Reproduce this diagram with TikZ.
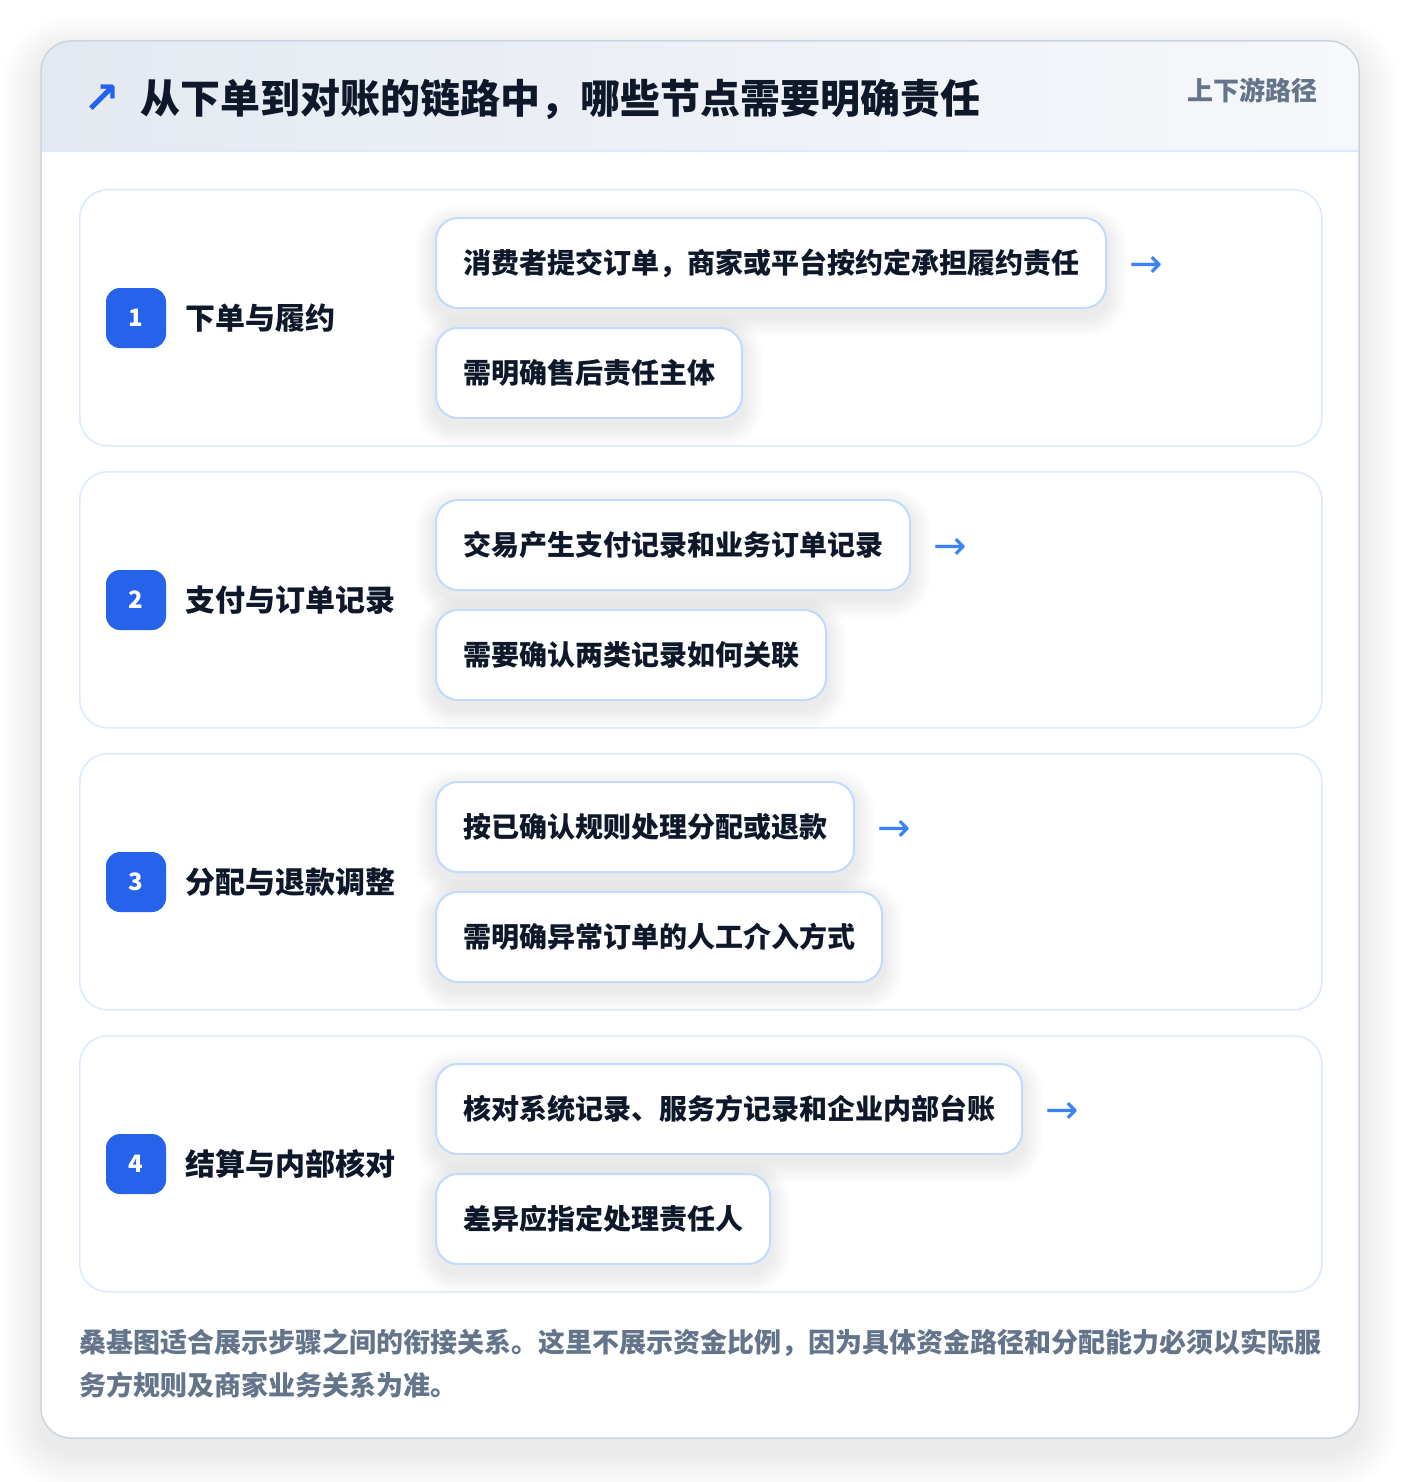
\documentclass[tikz,border=0pt]{standalone}
\usepackage{fontspec}
\setmainfont{Noto Sans CJK SC}
\newfontfamily\symfont{DejaVu Sans}
\definecolor{ink}{HTML}{0F172A}
\definecolor{brand}{HTML}{2563EB}
\definecolor{flowc}{HTML}{3B82F6}
\definecolor{slate}{HTML}{64748B}
\definecolor{cardB}{HTML}{DBEAFE}
\definecolor{itemB}{HTML}{BFDBFE}
\definecolor{outerB}{HTML}{CBD5E1}
\definecolor{hdrL}{HTML}{E4E9F1}
\definecolor{hdrR}{HTML}{F6F8FB}
\definecolor{shadowc}{HTML}{1E293B}
\pgfdeclarelayer{back}
\pgfdeclarelayer{shade}
\pgfsetlayers{back,shade,main}
\tikzset{
  card/.style={draw=cardB, line width=1.5pt, fill=white, rounded corners=28pt,
    minimum width=1242pt, minimum height=256pt, inner sep=0pt},
  badge/.style={fill=brand, rounded corners=14pt, minimum size=60pt, inner sep=0pt,
    text=white, font=\fontsize{24}{24}\selectfont\bfseries},
  lab/.style={anchor=west, text=ink, inner sep=0pt, font=\fontsize{30}{30}\selectfont\bfseries},
  itembox/.style={draw=itemB, line width=2pt, fill=white, rounded corners=22pt,
    minimum height=90pt, inner xsep=27pt, inner ysep=0pt, anchor=north west, text=ink,
    font=\fontsize{28}{28}\selectfont\bfseries},
  flowarrow/.style={anchor=west, text=flowc, inner sep=0pt, font=\symfont\fontsize{40}{40}\selectfont},
  note/.style={anchor=west, text=slate, inner sep=0pt, font=\fontsize{27}{27}\selectfont\bfseries},
  softshade/.style={fill=shadowc, opacity=0.006}
}
% soft shadow under a node: #1 node name, #2 corner radius
\newcommand\boxshadow[2]{%
  \begin{pgfonlayer}{shade}
  \foreach \i in {2,4,...,20}{
    \fill[softshade, rounded corners=#2+\i]
      ([shift={(-\i,-\i+8)}]#1.north west) rectangle ([shift={(\i,\i+8)}]#1.south east);
  }
  \end{pgfonlayer}}
\newcommand\flowrow[5]{%
  \pgfmathsetmacro\ry{189+282*(#1-1)}%
  \begin{pgfonlayer}{back}
  \node[card, anchor=north west] (card#1) at (79,\ry) {};
  \end{pgfonlayer}
  \node[badge] (badge#1) at (136,\ry+129) {#2};
  \node[lab] (lab#1) at (185,\ry+129) {#3};
  \node[itembox] (a#1) at (435,\ry+28) {#4};
  \node[itembox] (b#1) at (435,\ry+138) {#5};
  \boxshadow{a#1}{22}
  \boxshadow{b#1}{22}
  \node[flowarrow] (arr#1) at ([xshift=22pt,yshift=-4pt]a#1.east) {→};
}
\begin{document}
\begin{tikzpicture}[x=1pt,y=-1pt]
\useasboundingbox (0,0) rectangle (1400,1482);
\begin{pgfonlayer}{back}
\fill[white] (0,0) rectangle (1400,1482);
\foreach \i in {2,4,...,40}{
  \fill[fill=shadowc, opacity=0.005, rounded corners=30+\i]
    (41-\i,41-\i+14) rectangle (1359+\i,1438+\i+14);
}
\fill[white, rounded corners=30pt] (41,41) rectangle (1359,1438);
\begin{scope}
  \clip[rounded corners=30pt] (41,41) rectangle (1359,1438);
  \shade[left color=hdrL, right color=hdrR] (41,41) rectangle (1359,151);
\end{scope}
\draw[cardB, line width=1.5pt] (41,151) -- (1359,151);
\draw[outerB, line width=1.5pt, rounded corners=30pt] (41,41) rectangle (1359,1438);
\end{pgfonlayer}
% header
\node[text=brand, inner sep=0pt, font=\symfont\bfseries\fontsize{44}{44}\selectfont] (icon) at (102,99) {↗};
\node[anchor=west, text=ink, inner sep=0pt, font=\fontsize{40}{40}\selectfont\bfseries] (title) at (140,99)
  {从下单到对账的链路中，哪些节点需要明确责任};
\node[anchor=east, text=slate, inner sep=0pt, font=\fontsize{26}{26}\selectfont\bfseries] (tag) at (1318,90) {上下游路径};
% rows
\flowrow{1}{1}{下单与履约}{消费者提交订单，商家或平台按约定承担履约责任}{需明确售后责任主体}
\flowrow{2}{2}{支付与订单记录}{交易产生支付记录和业务订单记录}{需要确认两类记录如何关联}
\flowrow{3}{3}{分配与退款调整}{按已确认规则处理分配或退款}{需明确异常订单的人工介入方式}
\flowrow{4}{4}{结算与内部核对}{核对系统记录、服务方记录和企业内部台账}{差异应指定处理责任人}
% footer
\node[note] (note1) at (79,1343) {桑基图适合展示步骤之间的衔接关系。这里不展示资金比例，因为具体资金路径和分配能力必须以实际服};
\node[note] (note2) at (79,1385) {务方规则及商家业务关系为准。};
\end{tikzpicture}
\end{document}
